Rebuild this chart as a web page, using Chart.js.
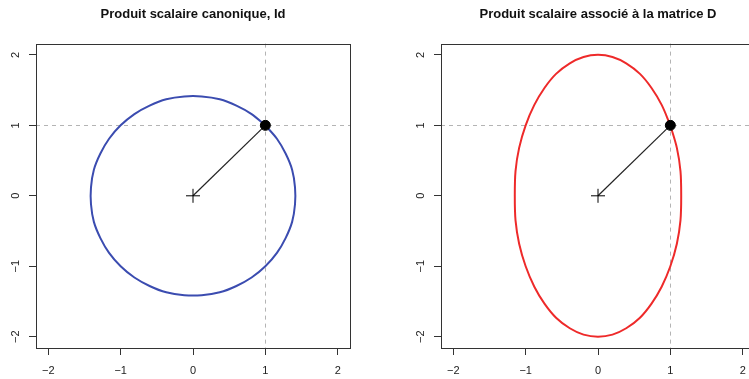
<!DOCTYPE html>
<html>
<head>
<meta charset="utf-8">
<script src="https://cdn.jsdelivr.net/npm/chart.js@4"></script>
<style>
  html, body { margin: 0; padding: 0; background: #fff; overflow: hidden; width: 749px; height: 379px; }
  .panel { position: absolute; top: 0; width: 380px; height: 379px; }
  #p1 { left: 0; }
  #p2 { left: 405px; }
</style>
</head>
<body>
<div class="panel" id="p1"><canvas id="left" width="380" height="379"></canvas></div>
<div class="panel" id="p2"><canvas id="right" width="380" height="379"></canvas></div>
<script>
// axes
var tickValues = [-2, -1, 0, 1, 2];
var tickLabels = ['\u22122', '\u22121', '0', '1', '2'];
var guideAt = 1; // dashed reference lines x = 1 and y = 1

var titles = ['Produit scalaire canonique, Id', 'Produit scalaire associé à la matrice D'];

// circle of the left plot, read every 10 degrees starting at the point (1,1)
var circleX = [1.00, 0.81, 0.60, 0.37, 0.12, -0.12, -0.37, -0.60, -0.81, -1.00, -1.16, -1.28, -1.37,
               -1.41, -1.41, -1.37, -1.28, -1.16, -1.00, -0.81, -0.60, -0.37, -0.12, 0.12, 0.37,
               0.60, 0.81, 1.00, 1.16, 1.28, 1.37, 1.41, 1.41, 1.37, 1.28, 1.16, 1.00];
var circleY = [1.00, 1.16, 1.28, 1.37, 1.41, 1.41, 1.37, 1.28, 1.16, 1.00, 0.81, 0.60, 0.37,
               0.12, -0.12, -0.37, -0.60, -0.81, -1.00, -1.16, -1.28, -1.37, -1.41, -1.41, -1.37,
               -1.28, -1.16, -1.00, -0.81, -0.60, -0.37, -0.12, 0.12, 0.37, 0.60, 0.81, 1.00];

// ellipse of the right plot, also starting at (1,1)
var ellipseX = [1.00, 0.88, 0.74, 0.58, 0.39, 0.20, 0.00, -0.20, -0.39, -0.58, -0.74, -0.88, -1.00,
                -1.09, -1.14, -1.15, -1.14, -1.09, -1.00, -0.88, -0.74, -0.58, -0.39, -0.20, 0.00,
                0.20, 0.39, 0.58, 0.74, 0.88, 1.00, 1.09, 1.14, 1.15, 1.14, 1.09, 1.00];
var ellipseY = [1.00, 1.29, 1.53, 1.73, 1.88, 1.97, 2.00, 1.97, 1.88, 1.73, 1.53, 1.29, 1.00,
                0.68, 0.35, 0.00, -0.35, -0.68, -1.00, -1.29, -1.53, -1.73, -1.88, -1.97, -2.00,
                -1.97, -1.88, -1.73, -1.53, -1.29, -1.00, -0.68, -0.35, 0.00, 0.35, 0.68, 1.00];

var origin = [0, 0];
var vecU = [1, 1];

function toPoints(xs, ys) {
    return xs.map(function(x, i) { return {x: x, y: ys[i]}; });
}

var boxPlugin = {
    id: 'box',
    afterDraw: function(chart) {
        var a = chart.chartArea, ctx = chart.ctx;
        ctx.save();
        ctx.strokeStyle = '#333';
        ctx.lineWidth = 1;
        ctx.strokeRect(Math.round(a.left) + 0.5, Math.round(a.top) + 0.5,
                       Math.round(a.right - a.left), Math.round(a.bottom - a.top));
        ctx.restore();
    }
};

function axisOptions(isY) {
    return {
        type: 'linear',
        min: isY ? -2.16 : -2.17,
        max: isY ? 2.16 : 2.17,
        afterBuildTicks: function(s) { s.ticks = tickValues.map(function(v) { return {value: v}; }); },
        afterFit: function(s) { if (isY) s.width = 36; else s.height = 31; },
        ticks: {
            color: '#222',
            font: {family: 'Liberation Sans', size: 11},
            padding: isY ? 7 : 9,
            minRotation: isY ? 90 : 0,
            maxRotation: isY ? 90 : 0,
            crossAlign: isY ? 'center' : 'near',
            callback: function(v) { return tickLabels[tickValues.indexOf(v)]; }
        },
        grid: {
            color: function(c) { return c.tick && c.tick.value === guideAt ? '#b4b4b4' : 'rgba(0,0,0,0)'; },
            lineWidth: 1,
            drawTicks: true,
            tickLength: 7,
            tickColor: '#333',
            tickWidth: 1
        },
        border: {display: false, dash: [4, 4]}
    };
}

function makeChart(id, title, xs, ys, colour) {
    var ctx = document.getElementById(id).getContext('2d');
    return new Chart(ctx, {
        type: 'scatter',
        data: {
            datasets: [{
                data: [{x: vecU[0], y: vecU[1]}],
                backgroundColor: '#000',
                borderColor: '#000',
                pointRadius: 5
            }, {
                data: [{x: origin[0], y: origin[1]}],
                pointStyle: 'cross',
                pointRadius: 7,
                borderColor: '#000',
                borderWidth: 1
            }, {
                data: [{x: origin[0], y: origin[1]}, {x: vecU[0], y: vecU[1]}],
                showLine: true,
                borderColor: '#222',
                borderWidth: 1.2,
                pointRadius: 0
            }, {
                data: toPoints(xs, ys),
                showLine: true,
                borderColor: colour,
                borderWidth: 2,
                tension: 0.33,
                pointRadius: 0
            }]
        },
        options: {
            responsive: false,
            animation: false,
            layout: {padding: {left: 0, right: 30, top: 0, bottom: 0}},
            plugins: {
                legend: {display: false},
                tooltip: {enabled: false},
                title: {
                    display: true,
                    text: title,
                    fullSize: false,
                    color: '#111',
                    font: {family: 'Liberation Sans', size: 13, weight: 'bold', lineHeight: 1.2},
                    padding: {top: 7, bottom: 21}
                }
            },
            scales: {
                x: axisOptions(false),
                y: axisOptions(true)
            }
        },
        plugins: [boxPlugin]
    });
}

document.addEventListener('DOMContentLoaded', function() {
    makeChart('left', titles[0], circleX, circleY, '#3b4cb0');
    makeChart('right', titles[1], ellipseX, ellipseY, '#ee2a2a');
});
</script>
</body>
</html>
